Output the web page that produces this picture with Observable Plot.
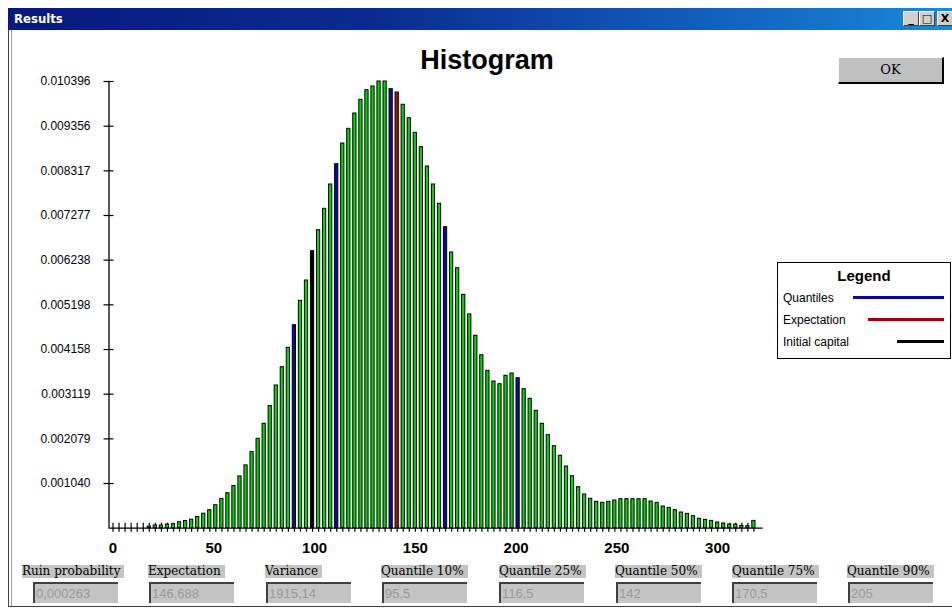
<!DOCTYPE html>
<html>
<head>
<meta charset="utf-8">
<script src="https://cdn.jsdelivr.net/npm/d3@7"></script>
<script src="https://cdn.jsdelivr.net/npm/@observablehq/plot@0.6"></script>
<style>
  html, body { margin: 0; padding: 0; }
  body { width: 952px; height: 612px; position: relative; overflow: hidden; background: #ffffff; font-family: "Liberation Sans", Arial, sans-serif; }
  .abs { position: absolute; }
  #chart { position: absolute; left: 0; top: 0; }
  .titlebar { left: 8px; top: 8px; width: 944px; height: 22px; background: linear-gradient(to right, #08187e 0%, #0a2c92 40%, #1570c8 85%, #1a8ad8 100%); }
  .titletext { left: 14px; top: 10px; color: #fff; font: bold 13px "Liberation Sans Narrow", "DejaVu Sans Condensed", Arial, sans-serif; line-height: 18px; }
  .wbtn { top: 11px; width: 14px; height: 13px; background: #d4d0c8; border-top: 1px solid #fff; border-left: 1px solid #fff; border-right: 1px solid #404040; border-bottom: 1px solid #404040; font: bold 11px "DejaVu Sans", sans-serif; line-height: 13px; text-align: center; color: #000; overflow: hidden; }
  .frameL { left: 8px; top: 30px; width: 2px; height: 577px; border-left: 1px solid #404040; border-right: 1px solid #a0a0a0; }
  .frameB { left: 8px; top: 606px; width: 944px; height: 1px; background: #404040; }
  .heading { left: 337px; top: 47px; width: 300px; text-align: center; font: bold 27px "Liberation Sans", Arial, sans-serif; line-height: 27px; color: #000; }
  .okbtn { left: 838px; top: 57px; width: 103px; height: 24px; background: #c0c0c0; border-top: 1px solid #fff; border-left: 1px solid #fff; border-right: 2px solid #000; border-bottom: 2px solid #000; text-align: center; font: 13px "DejaVu Serif", "Liberation Serif", serif; line-height: 24px; color: #000; }
  .legend { left: 777px; top: 262px; width: 172px; height: 95px; border: 1px solid #000; background: #fff; }
  .legtitle { left: 0; top: 4px; width: 172px; text-align: center; font: bold 15px "Liberation Sans", Arial, sans-serif; line-height: 18px; }
  .legrow { left: 5px; font: 12px "Liberation Sans", Arial, sans-serif; line-height: 14px; color: #000; }
  .legline { height: 3px; }
  .flabel { top: 565px; height: 13px; background: #c4c4c4; font: 12px "DejaVu Serif", "Liberation Serif", serif; line-height: 13px; color: #000; padding-right: 4px; white-space: nowrap; }
  .fbox { top: 582px; width: 82px; height: 19px; background: #c4c4c4; border-top: 2px solid #404040; border-left: 2px solid #404040; font: 13px "Liberation Sans", Arial, sans-serif; line-height: 19px; color: #9a9a9a; padding-left: 1px; box-sizing: content-box; }
</style>
</head>
<body>
<div id="chart"></div>
<script>
// ---------------- DATA ----------------
// bin spacing on the x axis (each bar is one bin)
const binWidth = 3;
// probability of each bin, left to right
const densities = [
  0, 0, 0, 0, 0, 0, 0.000035, 0.000063, 0.000063, 0.000086,
  0.000093, 0.000140, 0.000168, 0.000198, 0.000261, 0.000337, 0.000419, 0.000535, 0.000680, 0.000815,
  0.000982, 0.001206, 0.001462, 0.001773, 0.002081, 0.002430, 0.002844, 0.003321, 0.003747, 0.004198,
  0.004724, 0.005292, 0.005765, 0.006447, 0.006935, 0.007433, 0.007999, 0.008471, 0.008953, 0.009295,
  0.009651, 0.009970, 0.010194, 0.010280, 0.010396, 0.010396, 0.010217, 0.010140, 0.009854, 0.009542,
  0.009202, 0.008867, 0.008418, 0.007999, 0.007550, 0.007005, 0.006416, 0.006051, 0.005432, 0.004976,
  0.004478, 0.004026, 0.003663, 0.003414, 0.003351, 0.003547, 0.003600, 0.003491, 0.003235, 0.003012,
  0.002732, 0.002430, 0.002164, 0.001908, 0.001685, 0.001436, 0.001210, 0.000954, 0.000784, 0.000684,
  0.000614, 0.000591, 0.000614, 0.000645, 0.000675, 0.000675, 0.000675, 0.000675, 0.000675, 0.000621,
  0.000589, 0.000505, 0.000472, 0.000419, 0.000365, 0.000333, 0.000279, 0.000219, 0.000195, 0.000170,
  0.000133, 0.000109, 0.000086, 0.000086, 0.000054, 0.000047, 0.000170
];
// highlighted bars (x positions on the drawn axis)
const quantileBars = [90, 111, 138, 165, 201];
const expectationBar = 141;
const initialCapitalBar = 99;

const yTickValues = [0.001040, 0.002079, 0.003119, 0.004158, 0.005198, 0.006238, 0.007277, 0.008317, 0.009356, 0.010396];
const xTickLabels = [0, 50, 100, 150, 200, 250, 300];

const legendLabels = ["Quantiles", "Expectation", "Initial capital"];
const fieldLabels = ["Ruin probability", "Expectation", "Variance", "Quantile 10%", "Quantile 25%", "Quantile 50%", "Quantile 75%", "Quantile 90%"];
const fieldValues = ["0,000263", "146,688", "1915,14", "95,5", "116,5", "142", "170,5", "205"];

// ---------------- STYLE ----------------
const colors = { normal: "#00d800", quantile: "#0a0aa8", expectation: "#b00a0a", initial: "#000000" };
const legendLineColors = ["#0a0a8c", "#a00000", "#000000"];

// ---------------- BUILD ----------------
const bins = densities.map((h, i) => {
  const x = i * binWidth;
  let role = "normal";
  if (quantileBars.includes(x)) role = "quantile";
  else if (x === expectationBar) role = "expectation";
  else if (x === initialCapitalBar) role = "initial";
  return { x, h, role };
});
const binCenters = bins.map(d => d.x);
const xDomain = [-2, 325];
const halfBar = 0.8;
const axisEnd = binCenters[binCenters.length - 1] + 4.6;

const chart = Plot.plot({
  width: 952,
  height: 612,
  marginLeft: 108.5,
  marginRight: 184.5,
  marginTop: 81,
  marginBottom: 84.3,
  style: { background: "transparent", fontFamily: "'Liberation Sans', Arial, sans-serif", color: "#000" },
  x: { domain: xDomain, label: null },
  y: { domain: [0, yTickValues[yTickValues.length - 1]], label: null },
  marks: [
    Plot.ruleX([xDomain[0]], { y1: 0, y2: yTickValues[yTickValues.length - 1], stroke: "#000", strokeWidth: 1.3 }),
    Plot.ruleY([0], { x1: xDomain[0], x2: axisEnd, stroke: "#000", strokeWidth: 1.3 }),
    Plot.axisY({ ticks: yTickValues, tickFormat: d => d.toFixed(6), tickSize: 10, dx: 5, tickPadding: 13.5, fontSize: 12, strokeWidth: 1.2, label: null }),
    Plot.axisX({ ticks: binCenters, tickFormat: () => "", tickSize: 9, dy: -5, strokeWidth: 1.2, label: null }),
    Plot.axisX({ ticks: xTickLabels, tickFormat: d => String(d), tickSize: 0, tickPadding: 14.3, fontSize: 15, fontWeight: "bold", label: null }),
    Plot.rectY(bins.filter(d => d.h > 0), {
      x1: d => d.x - halfBar,
      x2: d => d.x + halfBar,
      y1: 0,
      y2: "h",
      fill: d => colors[d.role],
      stroke: "#000",
      strokeWidth: 1
    })
  ]
});
document.getElementById("chart").appendChild(chart);

// ---------------- WINDOW CHROME / TEXT ----------------
function el(cls, style, text) {
  const d = document.createElement("div");
  d.className = "abs " + cls;
  Object.assign(d.style, style || {});
  if (text !== undefined) d.textContent = text;
  document.body.appendChild(d);
  return d;
}
el("titlebar");
el("titletext", {}, "Results");
el("wbtn", { left: "903px" }, "_");
el("wbtn", { left: "919px" }, "□");
el("wbtn", { left: "937px" }, "X");
el("frameL");
el("frameB");
el("heading", {}, "Histogram");
el("okbtn", {}, "OK");

const legend = el("legend");
const lt = document.createElement("div");
lt.className = "abs legtitle"; lt.textContent = "Legend"; legend.appendChild(lt);
const rowTops = [28, 50, 72];
const lineLefts = [75, 90, 119];
legendLabels.forEach((name, i) => {
  const r = document.createElement("div");
  r.className = "abs legrow"; r.style.top = rowTops[i] + "px"; r.textContent = name; legend.appendChild(r);
  const l = document.createElement("div");
  l.className = "abs legline";
  l.style.left = lineLefts[i] + "px";
  l.style.width = (166 - lineLefts[i]) + "px";
  l.style.top = (rowTops[i] + 5) + "px";
  l.style.background = legendLineColors[i];
  legend.appendChild(l);
});

const labelLefts = [22, 148, 265, 381, 499, 615, 732, 847];
const boxLefts = [33, 149, 266, 382, 499, 616, 732, 848];
fieldLabels.forEach((name, i) => {
  el("flabel", { left: labelLefts[i] + "px" }, name);
  el("fbox", { left: boxLefts[i] + "px" }, fieldValues[i]);
});
</script>
</body>
</html>
